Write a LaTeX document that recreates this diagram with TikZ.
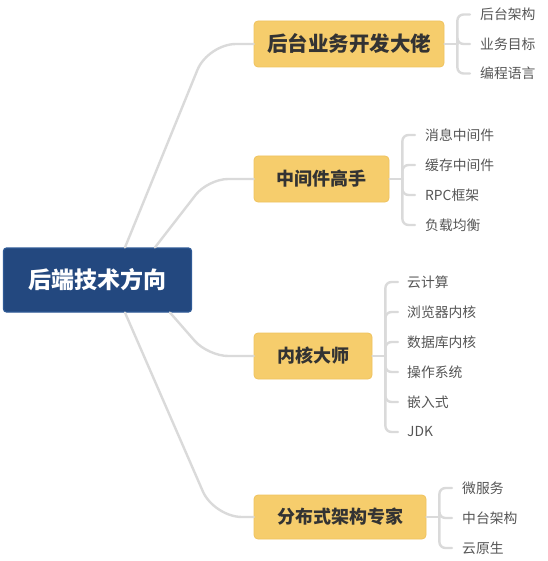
\documentclass[tikz,border=0pt]{standalone}
\usepackage{fontspec}
\setmainfont{Noto Sans CJK SC}
\begin{document}
\begin{tikzpicture}[x=1pt,y=-1pt,
  rootbox/.style={draw=rootedge,fill=rootfill,line width=1.2pt,rounded corners=3pt,text=white,
    font=\fontsize{23}{25}\selectfont\bfseries,inner sep=0pt,minimum width=188pt,minimum height=64pt},
  branchbox/.style={draw=boxedge,fill=boxfill,line width=0.8pt,rounded corners=4pt,text=textdark,
    font=\fontsize{18}{20}\selectfont\bfseries,inner sep=0pt,minimum height=45pt},
  leaf/.style={anchor=west,inner sep=0pt,text=leafgray,font=\fontsize{13.8}{15}\selectfont},
  link/.style={draw=linegray,line width=2.4pt,line cap=round},
]
\definecolor{rootfill}{HTML}{23487F}
\definecolor{rootedge}{HTML}{2F5A96}
\definecolor{boxfill}{HTML}{F6CD6C}
\definecolor{boxedge}{HTML}{EFC35E}
\definecolor{textdark}{HTML}{333333}
\definecolor{leafgray}{HTML}{555555}
\definecolor{linegray}{HTML}{DADADA}
\useasboundingbox (0,0) rectangle (547,561);

\coordinate (k1) at (208,44);
\coordinate (k2) at (208,179);
\coordinate (k3) at (208,356);
\coordinate (k4) at (214,517);

\node[rootbox] (root) at (97.5,280) {后端技术方向};
\node[branchbox,minimum width=190pt,minimum height=46pt,font=\fontsize{20.5}{22}\selectfont\bfseries] (b1) at (349,44) {后台业务开发大佬};
\node[branchbox,minimum width=135pt,minimum height=46pt] (b2) at (321.5,179) {中间件高手};
\node[branchbox,minimum width=118pt,minimum height=46pt] (b3) at (313,356) {内核大师};
\node[branchbox,minimum width=172pt,minimum height=44pt] (b4) at (340,517) {分布式架构专家};

% leaves
\node[leaf] (c11) at (480,14.5) {后台架构};
\node[leaf] (c12) at (480,44) {业务目标};
\node[leaf] (c13) at (480,73.5) {编程语言};

\node[leaf] (c21) at (425,135) {消息中间件};
\node[leaf] (c22) at (425,165) {缓存中间件};
\node[leaf] (c23) at (425,195) {RPC框架};
\node[leaf] (c24) at (425,225) {负载均衡};

\node[leaf] (c31) at (407,282) {云计算};
\node[leaf] (c32) at (407,312) {浏览器内核};
\node[leaf] (c33) at (407,342) {数据库内核};
\node[leaf] (c34) at (407,372) {操作系统};
\node[leaf] (c35) at (407,402) {嵌入式};
\node[leaf] (c36) at (407,432) {JDK};

\node[leaf] (c41) at (462,488) {微服务};
\node[leaf] (c42) at (462,518) {中台架构};
\node[leaf] (c43) at (462,548) {云原生};

% root connectors
\draw[link,rounded corners=28pt] ([xshift=27.5pt]root.north) -- (k1) -- (b1.west);
\draw[link,rounded corners=20pt] ([xshift=57.5pt]root.north) -- (k2) -- (b2.west);
\draw[link,rounded corners=20pt] ([xshift=72.5pt]root.south) -- (k3) -- (b3.west);
\draw[link,rounded corners=28pt] ([xshift=27.5pt]root.south) -- (k4) -- (b4.west);

% brackets
\coordinate (j1) at ([xshift=13pt]b1.east);
\coordinate (j2) at ([xshift=13pt]b2.east);
\coordinate (j3) at ([xshift=13pt]b3.east);
\coordinate (j4) at ([xshift=13pt]b4.east);
\draw[link] (b1.east) -- (j1);
\draw[link] (b2.east) -- (j2);
\draw[link] (b3.east) -- (j3);
\draw[link] (b4.east) -- (j4);

\foreach \c in {c11,c12,c13}{\draw[link,rounded corners=6pt] (j1) |- ([xshift=-10pt]\c.west);}
\foreach \c in {c21,c22,c23,c24}{\draw[link,rounded corners=6pt] (j2) |- ([xshift=-10pt]\c.west);}
\foreach \c in {c31,c32,c33,c34,c35,c36}{\draw[link,rounded corners=6pt] (j3) |- ([xshift=-9pt]\c.west);}
\foreach \c in {c41,c42,c43}{\draw[link,rounded corners=6pt] (j4) |- ([xshift=-10pt]\c.west);}
\end{tikzpicture}
\end{document}
